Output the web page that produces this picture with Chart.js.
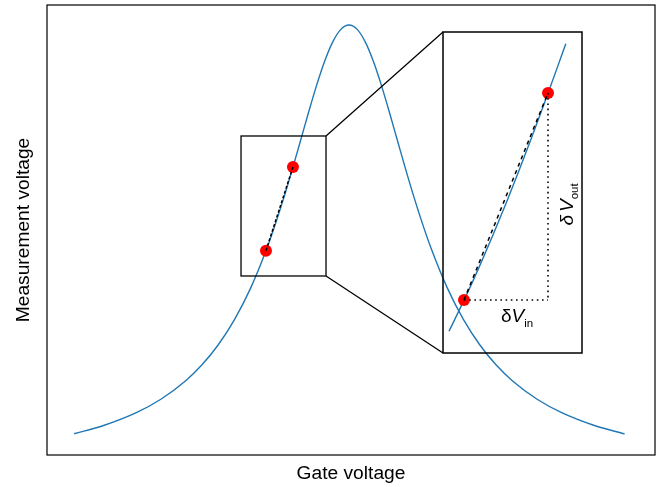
<!DOCTYPE html>
<html>
<head>
<meta charset="utf-8">
<style>
html,body{margin:0;padding:0;background:#fff;}
#wrap{position:relative;width:659px;height:487px;overflow:hidden;}
#main{position:absolute;left:0;top:0;}
#inset{position:absolute;left:441px;top:30px;}
</style>
<script src="https://cdn.jsdelivr.net/npm/chart.js@4"></script>
</head>
<body>
<div id="wrap">
<canvas id="main" width="659" height="487"></canvas>
<canvas id="inset" width="143" height="325"></canvas>
</div>
<script>
// ---- data ----
const curveX = [-3.36, -3.0, -2.6, -2.3, -2.0, -1.8, -1.6, -1.4, -1.2, -1.0, -0.9, -0.8, -0.7, -0.6, -0.5, -0.4, -0.3, -0.2, -0.1, 0,
                0.1, 0.2, 0.3, 0.4, 0.5, 0.6, 0.7, 0.8, 0.9, 1.0, 1.2, 1.4, 1.6, 1.8, 2.0, 2.3, 2.6, 3.0, 3.37];
const curveY = [0.0472, 0.0656, 0.0941, 0.1239, 0.1645, 0.1999, 0.2445, 0.3008, 0.3720, 0.4611, 0.5131, 0.5697, 0.6304, 0.6938, 0.7578, 0.8192, 0.8739, 0.9175, 0.9458, 0.9556,
                0.9458, 0.9175, 0.8739, 0.8192, 0.7578, 0.6938, 0.6304, 0.5697, 0.5131, 0.4611, 0.3720, 0.3008, 0.2445, 0.1999, 0.1645, 0.1239, 0.0941, 0.0656, 0.0468];

const insetX = [-1.074, -1.0, -0.95, -0.9, -0.85, -0.8, -0.75, -0.7, -0.65, -0.615];
const insetY = [0.4259, 0.4611, 0.4865, 0.5131, 0.5408, 0.5697, 0.5996, 0.6304, 0.6619, 0.6842];

const pointsX = [-1.015, -0.685];
const pointsY = [0.454, 0.640];

const zoomBoxX = [-1.32, -0.281];
const zoomBoxY = [0.3978, 0.7089];

const mainRangeX = [-3.692, 3.741];
const mainRangeY = [0, 1];
const insetRangeX = [-1.0975, -0.5514];
const insetRangeY = [0.4064, 0.6948];

const xTitle = 'Gate voltage';
const yTitle = 'Measurement voltage';
const labelIn = 'in';
const labelOut = 'out';

// ---- helpers ----
const FAM = '"Liberation Sans", Arial, Helvetica, sans-serif';
const BLUE = '#1f77b4';
const zip = (xs, ys) => xs.map((x, i) => ({x: x, y: ys[i]}));

function drawDeltaV(ctx, x, y, sub, rotated) {
  ctx.save();
  ctx.translate(x, y);
  if (rotated) ctx.rotate(-Math.PI / 2);
  ctx.fillStyle = '#000';
  ctx.textBaseline = 'alphabetic';
  ctx.textAlign = 'left';
  ctx.font = (rotated ? 'italic ' : '') + '19px ' + FAM;
  ctx.fillText('δ', 0, 0);
  let cx = ctx.measureText('δ').width + (rotated ? 3 : 0);
  ctx.font = 'italic 19px ' + FAM;
  ctx.fillText('V', cx, 0);
  cx += ctx.measureText('V').width;
  ctx.font = '11.5px ' + FAM;
  ctx.fillText(sub, cx, 5);
  ctx.restore();
}

function hiddenAxis(min, max) {
  return { type: 'linear', min: min, max: max, display: false };
}

// ---- inset chart ----
const insetFrame = {
  id: 'insetFrame',
  afterDatasetsDraw(chart) {
    const ctx = chart.ctx, xs = chart.scales.x, ys = chart.scales.y;
    const p1x = xs.getPixelForValue(pointsX[0]), p1y = ys.getPixelForValue(pointsY[0]);
    const p2x = xs.getPixelForValue(pointsX[1]), p2y = ys.getPixelForValue(pointsY[1]);
    drawDeltaV(ctx, (p1x + p2x) / 2 - 5, p1y + 22, labelIn, false);
    drawDeltaV(ctx, p2x + 25, (p1y + p2y) / 2 + 29, labelOut, true);
  },
  afterDraw(chart) {
    const ctx = chart.ctx, a = chart.chartArea;
    ctx.save();
    ctx.strokeStyle = '#000';
    ctx.lineWidth = 1.5;
    ctx.strokeRect(a.left, a.top, a.right - a.left, a.bottom - a.top);
    ctx.restore();
  }
};

const insetChart = new Chart(document.getElementById('inset'), {
  type: 'scatter',
  data: {
    datasets: [
      { // dashed secant
        data: zip(pointsX, pointsY), showLine: true, borderColor: '#000', borderWidth: 1.5,
        borderDash: [4, 4], pointRadius: 0, fill: false
      },
      { // dotted horizontal
        data: [{x: pointsX[0], y: pointsY[0]}, {x: pointsX[1], y: pointsY[0]}], showLine: true,
        borderColor: '#000', borderWidth: 1.6, borderDash: [1.6, 3.6], pointRadius: 0, fill: false
      },
      { // dotted vertical
        data: [{x: pointsX[1], y: pointsY[1]}, {x: pointsX[1], y: pointsY[0]}], showLine: true,
        borderColor: '#000', borderWidth: 1.6, borderDash: [1.6, 3.6], pointRadius: 0, fill: false
      },
      { // red points
        data: zip(pointsX, pointsY), showLine: false, pointRadius: 6, pointBackgroundColor: 'red',
        pointBorderColor: 'red', pointBorderWidth: 0
      },
      { // curve
        data: zip(insetX, insetY), showLine: true, borderColor: BLUE, borderWidth: 1.4,
        pointRadius: 0, cubicInterpolationMode: 'monotone', fill: false
      }
    ]
  },
  options: {
    responsive: false, animation: false, devicePixelRatio: 1,
    layout: { padding: 2, autoPadding: false },
    plugins: { legend: { display: false }, tooltip: { enabled: false } },
    events: [],
    scales: { x: hiddenAxis(insetRangeX[0], insetRangeX[1]), y: hiddenAxis(insetRangeY[0], insetRangeY[1]) }
  },
  plugins: [insetFrame]
});

// ---- main chart ----
const mainDecor = {
  id: 'mainDecor',
  afterDatasetsDraw(chart) {
    const ctx = chart.ctx, xs = chart.scales.x, ys = chart.scales.y;
    const bl = xs.getPixelForValue(zoomBoxX[0]), br = xs.getPixelForValue(zoomBoxX[1]);
    const bb = ys.getPixelForValue(zoomBoxY[0]), bt = ys.getPixelForValue(zoomBoxY[1]);
    const insetCanvas = document.getElementById('inset');
    const ia = insetChart.chartArea;
    const il = insetCanvas.offsetLeft + ia.left, it = insetCanvas.offsetTop + ia.top, ib = insetCanvas.offsetTop + ia.bottom;
    ctx.save();
    ctx.strokeStyle = '#000';
    ctx.lineWidth = 1.3;
    ctx.strokeRect(bl, bt, br - bl, bb - bt);
    ctx.beginPath();
    ctx.moveTo(br, bt); ctx.lineTo(il, it);
    ctx.moveTo(br, bb); ctx.lineTo(il, ib);
    ctx.stroke();
    ctx.restore();
  },
  afterDraw(chart) {
    const ctx = chart.ctx, a = chart.chartArea;
    ctx.save();
    ctx.strokeStyle = '#000';
    ctx.lineWidth = 1.2;
    ctx.strokeRect(a.left, a.top, a.right - a.left, a.bottom - a.top);
    ctx.restore();
  }
};

const axisCommon = {
  grid: { display: false, drawTicks: false },
  border: { display: false },
  ticks: { display: false }
};

new Chart(document.getElementById('main'), {
  type: 'scatter',
  data: {
    datasets: [
      { // dashed secant
        data: zip(pointsX, pointsY), showLine: true, borderColor: '#000', borderWidth: 1.5,
        borderDash: [3, 2], pointRadius: 0, fill: false
      },
      { // red points
        data: zip(pointsX, pointsY), showLine: false, pointRadius: 6, pointBackgroundColor: 'red',
        pointBorderColor: 'red', pointBorderWidth: 0
      },
      { // curve
        data: zip(curveX, curveY), showLine: true, borderColor: BLUE, borderWidth: 1.4,
        pointRadius: 0, cubicInterpolationMode: 'monotone', fill: false
      }
    ]
  },
  options: {
    responsive: false, animation: false, devicePixelRatio: 1,
    layout: { padding: { left: 0, top: 5, right: 4, bottom: 0 }, autoPadding: false },
    plugins: { legend: { display: false }, tooltip: { enabled: false } },
    events: [],
    scales: {
      x: Object.assign({}, axisCommon, {
        type: 'linear', position: 'bottom', min: mainRangeX[0], max: mainRangeX[1],
        title: { display: true, text: xTitle, color: '#000', font: { family: FAM, size: 19.2 },
                 padding: { top: 7.46, bottom: 1.5 } }
      }),
      y: Object.assign({}, axisCommon, {
        type: 'linear', position: 'left', min: mainRangeY[0], max: mainRangeY[1],
        title: { display: true, text: yTitle, color: '#000', font: { family: FAM, size: 19.2 },
                 padding: { top: 11.83, bottom: 12.13 } }
      })
    }
  },
  plugins: [mainDecor]
});
</script>
</body>
</html>
